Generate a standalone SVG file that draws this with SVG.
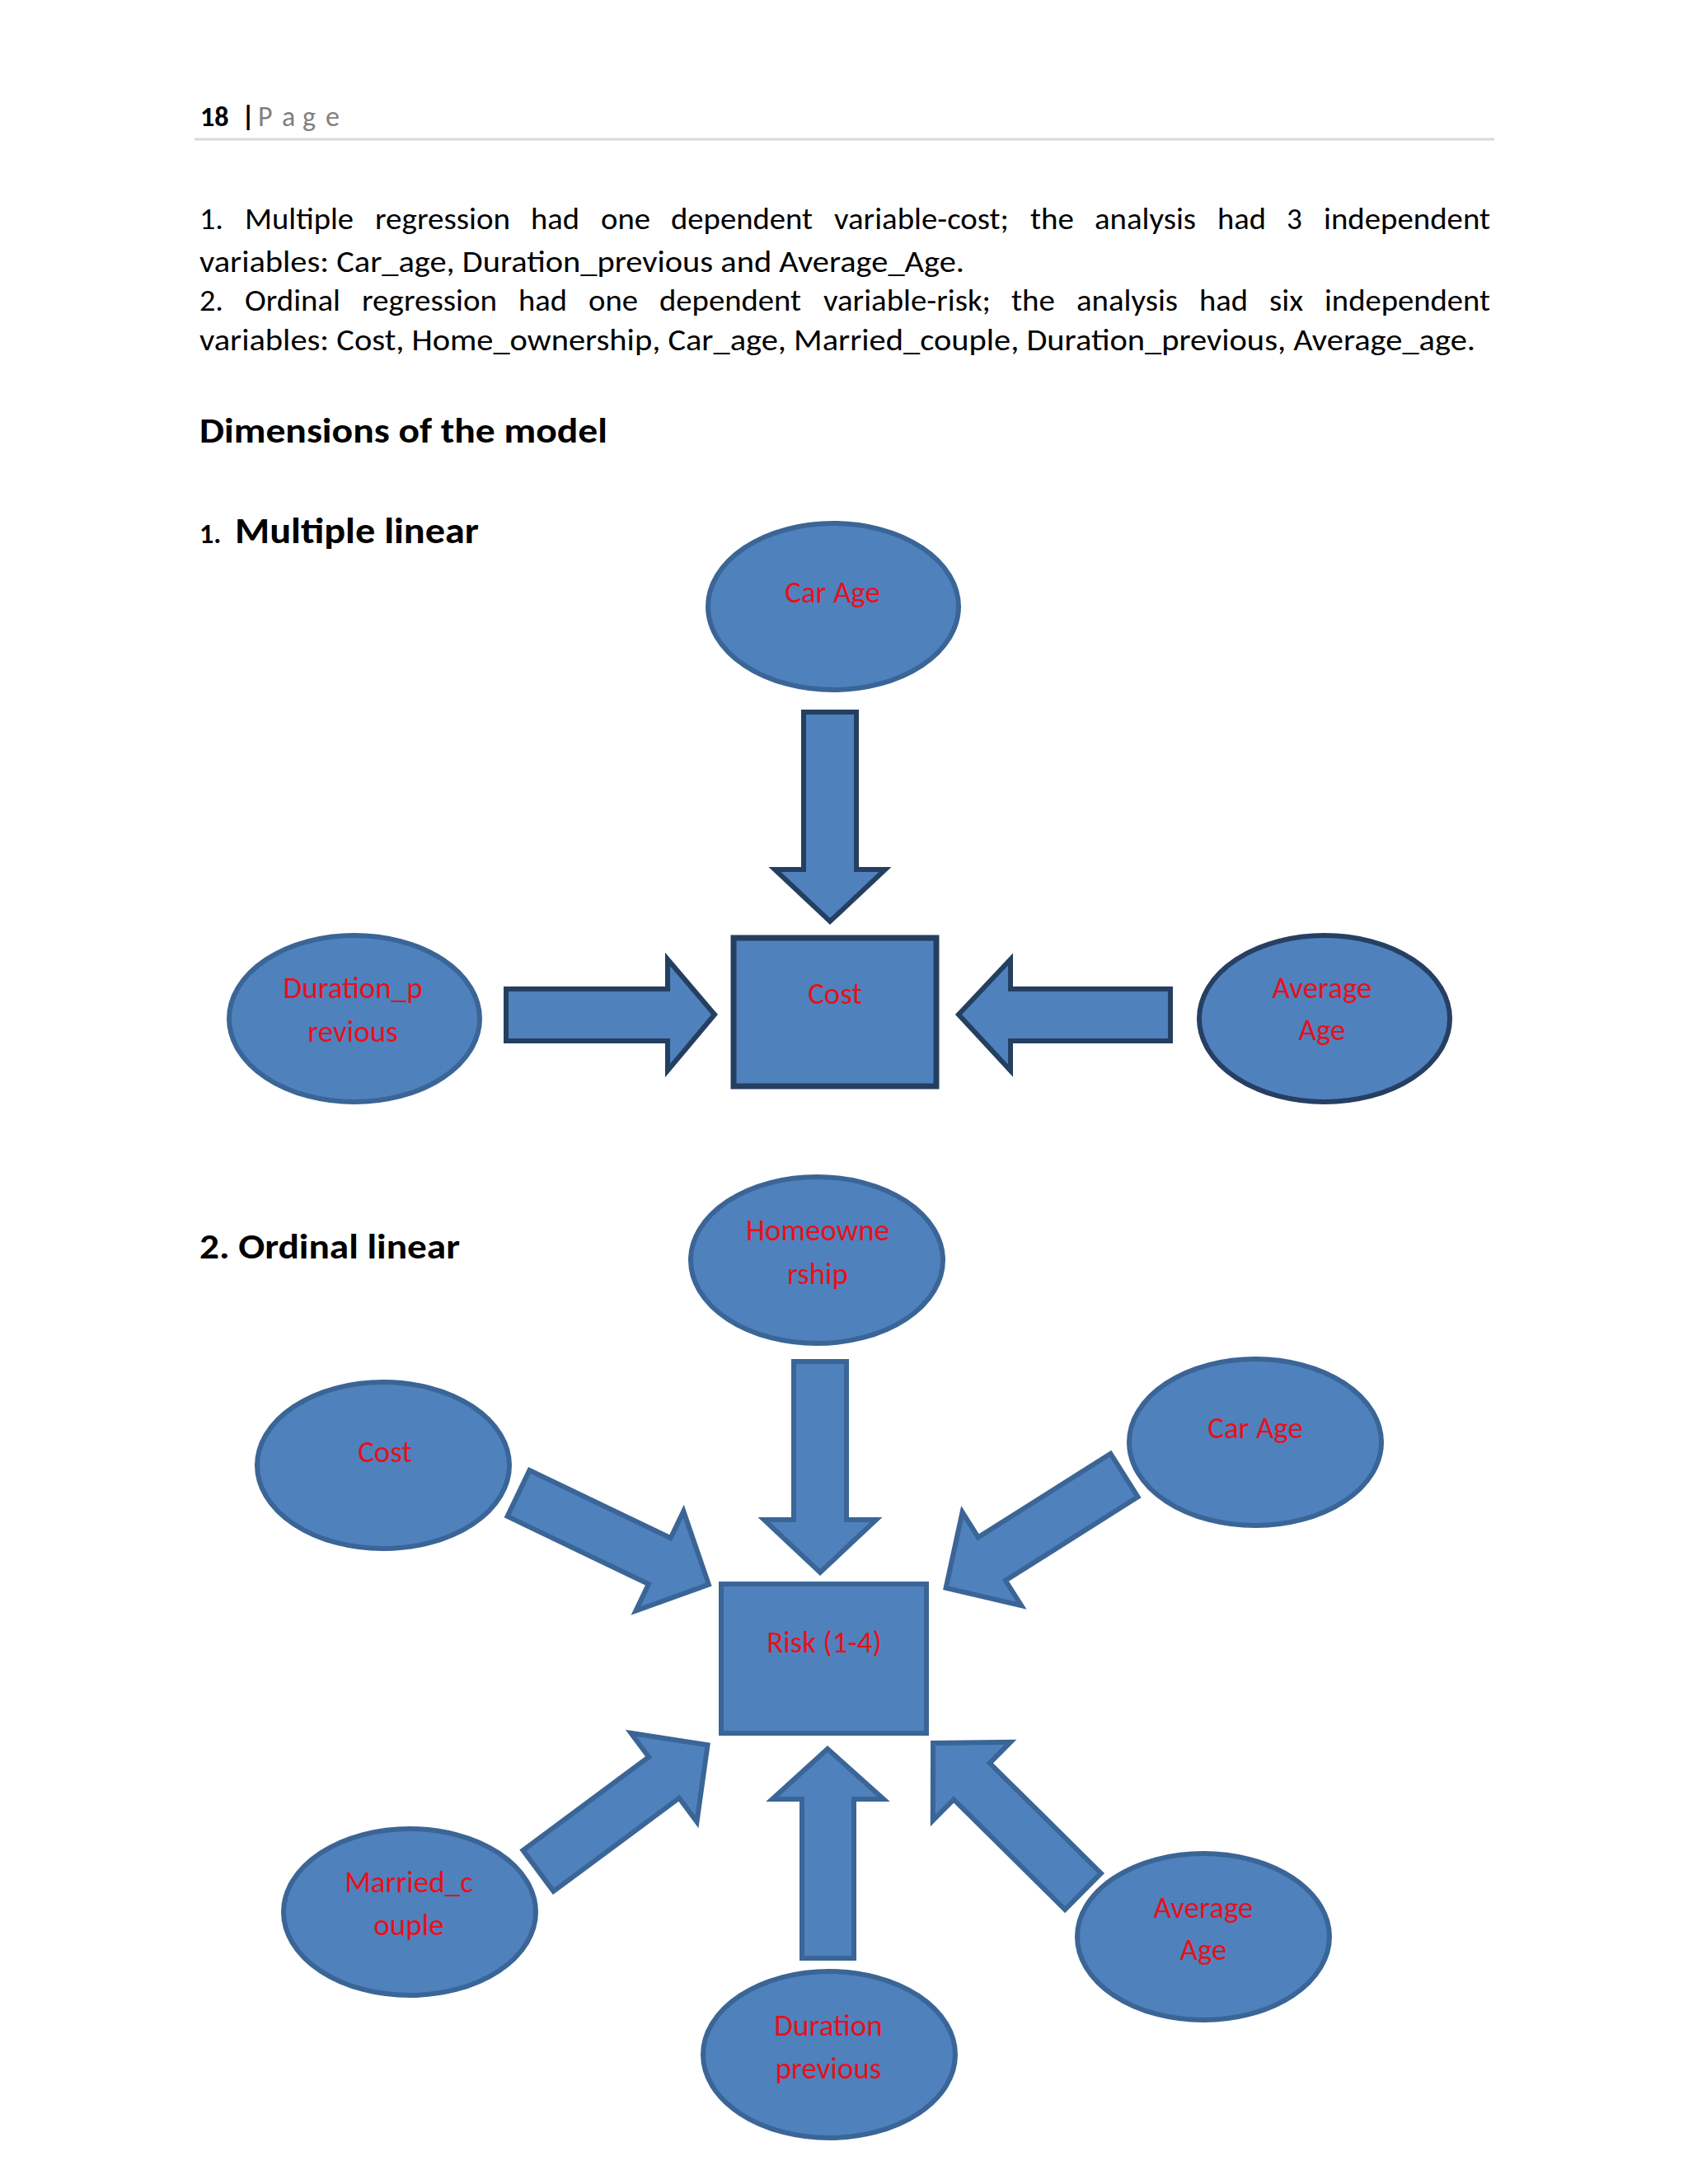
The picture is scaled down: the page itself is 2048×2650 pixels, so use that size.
<svg xmlns="http://www.w3.org/2000/svg" width="2048" height="2650" viewBox="0 0 2048 2650">
  <defs>
    <style>
      text { font-family: Carlito, Lato, "Liberation Sans", sans-serif; }
      .body { font-size: 37px; fill: #000000; }
      .hd { font-weight: bold; fill: #000000; }
      .lbl { font-size: 37px; fill: #E8101A; text-anchor: middle; }
      .node { fill: #4F81BD; stroke: #3A6596; stroke-width: 6; }
      .nodeDark { fill: #4F81BD; stroke: #263F63; stroke-width: 6; }
      .box1 { fill: #4F81BD; stroke: #243F60; stroke-width: 7; }
      .arr1 { fill: #4F81BD; stroke: #243F60; stroke-width: 6; stroke-linejoin: miter; }
      .arr2 { fill: #4F81BD; stroke: #3A6596; stroke-width: 6; stroke-linejoin: miter; }
    </style>
    <polygon id="diagArrow" points="0,-31 190,-31 190,-67 256,0 190,67 190,31 0,31"/>
  </defs>
  <rect x="0" y="0" width="2048" height="2650" fill="#FFFFFF"/>

  <!-- Header -->
  <g id="header">
    <text x="243" y="153" class="hd" font-size="34">18</text>
    <text x="293" y="153" class="hd" font-size="34">|</text>
    <text y="153" font-size="34" fill="#808080"><tspan x="313">P</tspan><tspan x="342">a</tspan><tspan x="367">g</tspan><tspan x="395">e</tspan></text>
    <line x1="236" y1="169" x2="1813" y2="169" stroke="#D9D9D9" stroke-width="3"/>
  </g>

  <!-- Body text (justified lines set word by word) -->
  <g id="bodytext" class="body">
    <g id="line1">
      <text class="body" x="242" y="278" textLength="29" lengthAdjust="spacingAndGlyphs">1.</text>
      <text class="body" x="297" y="278" textLength="132" lengthAdjust="spacingAndGlyphs">Multiple</text>
      <text class="body" x="455" y="278" textLength="164" lengthAdjust="spacingAndGlyphs">regression</text>
      <text class="body" x="644" y="278" textLength="59" lengthAdjust="spacingAndGlyphs">had</text>
      <text class="body" x="729" y="278" textLength="60" lengthAdjust="spacingAndGlyphs">one</text>
      <text class="body" x="814" y="278" textLength="172" lengthAdjust="spacingAndGlyphs">dependent</text>
      <text class="body" x="1012" y="278" textLength="212" lengthAdjust="spacingAndGlyphs">variable-cost;</text>
      <text class="body" x="1250" y="278" textLength="53" lengthAdjust="spacingAndGlyphs">the</text>
      <text class="body" x="1328" y="278" textLength="123" lengthAdjust="spacingAndGlyphs">analysis</text>
      <text class="body" x="1477" y="278" textLength="59" lengthAdjust="spacingAndGlyphs">had</text>
      <text class="body" x="1561" y="278">3</text>
      <text class="body" x="1606" y="278" textLength="202" lengthAdjust="spacingAndGlyphs">independent</text>
    </g>
    <text x="242" y="330" class="body" textLength="928" lengthAdjust="spacingAndGlyphs">variables: Car_age, Duration_previous and Average_Age.</text>
    <g id="line3">
      <text class="body" x="242" y="377" textLength="29" lengthAdjust="spacingAndGlyphs">2.</text>
      <text class="body" x="297" y="377" textLength="116" lengthAdjust="spacingAndGlyphs">Ordinal</text>
      <text class="body" x="439" y="377" textLength="164" lengthAdjust="spacingAndGlyphs">regression</text>
      <text class="body" x="629" y="377" textLength="59" lengthAdjust="spacingAndGlyphs">had</text>
      <text class="body" x="714" y="377" textLength="60" lengthAdjust="spacingAndGlyphs">one</text>
      <text class="body" x="800" y="377" textLength="172" lengthAdjust="spacingAndGlyphs">dependent</text>
      <text class="body" x="999" y="377" textLength="203" lengthAdjust="spacingAndGlyphs">variable-risk;</text>
      <text class="body" x="1227" y="377" textLength="53" lengthAdjust="spacingAndGlyphs">the</text>
      <text class="body" x="1306" y="377" textLength="123" lengthAdjust="spacingAndGlyphs">analysis</text>
      <text class="body" x="1455" y="377" textLength="59" lengthAdjust="spacingAndGlyphs">had</text>
      <text class="body" x="1540" y="377" textLength="41" lengthAdjust="spacingAndGlyphs">six</text>
      <text class="body" x="1607" y="377" textLength="201" lengthAdjust="spacingAndGlyphs">independent</text>
    </g>
    <text x="242" y="425" class="body" textLength="1548" lengthAdjust="spacingAndGlyphs">variables: Cost, Home_ownership, Car_age, Married_couple, Duration_previous, Average_age.</text>
  </g>

  <!-- Headings -->
  <g id="headings">
    <text x="242" y="537" class="hd" font-size="42" textLength="495" lengthAdjust="spacingAndGlyphs">Dimensions of the model</text>
    <text x="242" y="659" class="hd" font-size="34">1.</text>
    <text x="285" y="659" class="hd" font-size="44" textLength="296" lengthAdjust="spacingAndGlyphs">Multiple linear</text>
    <text x="242" y="1527" class="hd" font-size="42" textLength="316" lengthAdjust="spacingAndGlyphs">2. Ordinal linear</text>
  </g>

  <!-- Diagram 1 connectors -->
  <g id="connectors1">
    <polygon class="arr1" points="975,864 1039,864 1039,1055 1074,1055 1007,1118 940,1055 975,1055"/>
    <polygon class="arr1" points="614,1200 810,1200 810,1164 867,1231 810,1299 810,1263 614,1263"/>
    <polygon class="arr1" points="1420,1200 1226,1200 1226,1164 1163,1231 1226,1299 1226,1263 1420,1263"/>
  </g>

  <!-- Diagram 1 nodes -->
  <g id="d1-carage">
    <ellipse class="node" cx="1011" cy="736" rx="152" ry="101"/>
    <text class="lbl" x="1010" y="731">Car Age</text>
  </g>
  <g id="d1-duration">
    <ellipse class="node" cx="430" cy="1236" rx="152" ry="101"/>
    <text class="lbl" x="428" y="1211">Duration_p</text>
    <text class="lbl" x="428" y="1264">revious</text>
  </g>
  <g id="d1-cost">
    <rect class="box1" x="890" y="1138" width="246" height="180"/>
    <text class="lbl" x="1013" y="1218">Cost</text>
  </g>
  <g id="d1-avgage">
    <ellipse class="nodeDark" cx="1607" cy="1236" rx="152" ry="101"/>
    <text class="lbl" x="1604" y="1211">Average</text>
    <text class="lbl" x="1604" y="1262">Age</text>
  </g>

  <!-- Diagram 2 connectors -->
  <g id="connectors2">
    <polygon class="arr2" points="963,1652 1027,1652 1027,1844 1063,1844 995,1908 927,1844 963,1844"/>
    <polygon class="arr2" points="973,2376 1036,2376 1036,2183 1072,2183 1004,2122 937,2183 973,2183"/>
    <use href="#diagArrow" class="arr2" transform="translate(629,1812) rotate(25.6)"/>
    <use href="#diagArrow" class="arr2" transform="translate(1364,1790) rotate(147.7)"/>
    <use href="#diagArrow" class="arr2" transform="translate(653,2270) rotate(-36.6)"/>
    <use href="#diagArrow" class="arr2" transform="translate(1314,2295) rotate(-135.3)"/>
  </g>

  <!-- Diagram 2 nodes -->
  <g id="d2-home">
    <ellipse class="node" cx="991" cy="1529" rx="153" ry="101"/>
    <text class="lbl" x="992" y="1505">Homeowne</text>
    <text class="lbl" x="992" y="1558">rship</text>
  </g>
  <g id="d2-cost">
    <ellipse class="node" cx="465" cy="1778" rx="153" ry="101"/>
    <text class="lbl" x="467" y="1774">Cost</text>
  </g>
  <g id="d2-carage">
    <ellipse class="node" cx="1523" cy="1750" rx="153" ry="101"/>
    <text class="lbl" x="1523" y="1745">Car Age</text>
  </g>
  <g id="d2-risk">
    <rect class="node" x="875" y="1922" width="249" height="181"/>
    <text class="lbl" x="1000" y="2005">Risk (1-4)</text>
  </g>
  <g id="d2-married">
    <ellipse class="node" cx="497" cy="2320" rx="153" ry="101"/>
    <text class="lbl" x="496" y="2296">Married_c</text>
    <text class="lbl" x="496" y="2348">ouple</text>
  </g>
  <g id="d2-avgage">
    <ellipse class="node" cx="1460" cy="2350" rx="153" ry="101"/>
    <text class="lbl" x="1460" y="2327">Average</text>
    <text class="lbl" x="1460" y="2378">Age</text>
  </g>
  <g id="d2-duration">
    <ellipse class="node" cx="1006" cy="2493" rx="153" ry="101"/>
    <text class="lbl" x="1005" y="2470">Duration</text>
    <text class="lbl" x="1005" y="2522">previous</text>
  </g>
</svg>
